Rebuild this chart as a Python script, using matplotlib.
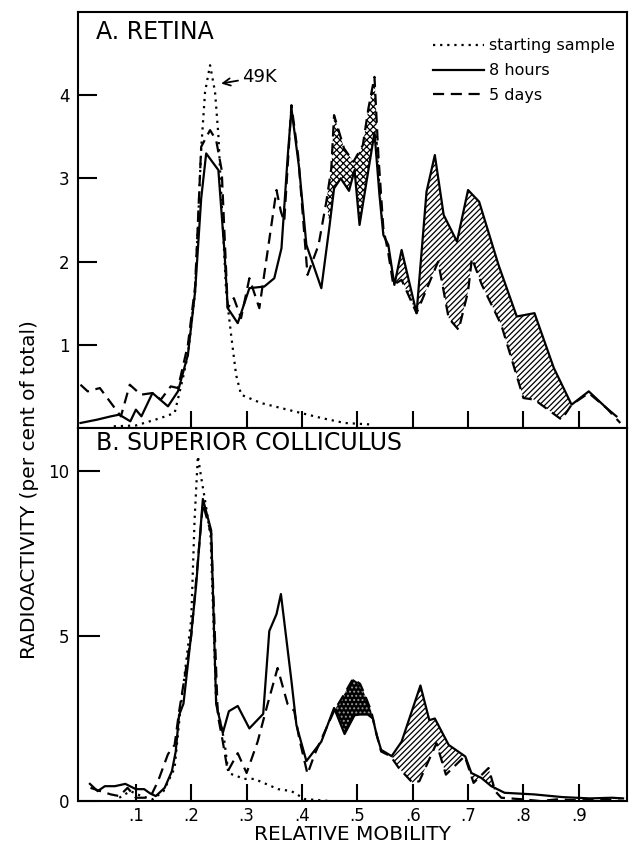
import numpy as np
import matplotlib
matplotlib.use("Agg")
import matplotlib.pyplot as plt

# --- A. Retina : lectures sur la figure (mobilite relative, % du total)
a_solid_x = [0.0, 0.03, 0.055, 0.07, 0.09, 0.10, 0.11, 0.13, 0.158, 0.176, 0.194, 0.207, 0.218,
             0.227, 0.249, 0.26, 0.266, 0.284, 0.305, 0.332, 0.35, 0.363, 0.374, 0.381, 0.395,
             0.408, 0.435, 0.45, 0.458, 0.47, 0.485, 0.495, 0.504, 0.52, 0.531, 0.54, 0.547,
             0.556, 0.567, 0.58, 0.607, 0.625, 0.64, 0.656, 0.68, 0.70, 0.72, 0.755, 0.788,
             0.82, 0.855, 0.887, 0.918, 0.95, 0.968]
a_solid_y = [0.06, 0.10, 0.14, 0.16, 0.08, 0.22, 0.14, 0.42, 0.26, 0.44, 0.88, 1.64, 2.76,
             3.30, 3.10, 2.12, 1.44, 1.26, 1.68, 1.70, 1.80, 2.16, 3.24, 3.84, 3.12,
             2.20, 1.68, 2.44, 2.88, 3.00, 2.85, 3.10, 2.44, 3.10, 3.55, 2.80, 2.32,
             2.20, 1.72, 2.14, 1.38, 2.84, 3.28, 2.56, 2.24, 2.86, 2.72, 1.96, 1.34,
             1.38, 0.72, 0.28, 0.44, 0.24, 0.14]
a_dash_x = [0.0, 0.013, 0.035, 0.073, 0.089, 0.109, 0.13, 0.145, 0.163, 0.176, 0.194, 0.207,
            0.218, 0.234, 0.245, 0.255, 0.266, 0.277, 0.29, 0.305, 0.323, 0.354, 0.362, 0.368,
            0.381, 0.393, 0.41, 0.43, 0.444, 0.453, 0.458, 0.476, 0.493, 0.51, 0.52, 0.531,
            0.538, 0.547, 0.556, 0.565, 0.58, 0.607, 0.646, 0.665, 0.683, 0.70, 0.707, 0.725,
            0.76, 0.80, 0.82, 0.869, 0.887, 0.918, 0.95, 0.975]
a_dash_y = [0.52, 0.44, 0.48, 0.14, 0.52, 0.40, 0.42, 0.34, 0.50, 0.48, 1.00, 1.70,
            3.38, 3.58, 3.46, 3.10, 1.44, 1.56, 1.32, 1.80, 1.44, 2.86, 2.60, 2.48,
            3.88, 3.28, 1.84, 2.20, 2.72, 3.12, 3.76, 3.36, 3.20, 3.40, 3.84, 4.22,
            3.28, 2.40, 2.10, 1.72, 1.78, 1.38, 2.00, 1.32, 1.18, 1.64, 2.04, 1.72,
            1.24, 0.36, 0.34, 0.10, 0.28, 0.42, 0.24, 0.06]
a_dot_x = [0.06, 0.10, 0.145, 0.17, 0.185, 0.194, 0.207, 0.218, 0.225, 0.234, 0.243, 0.249,
           0.254, 0.263, 0.272, 0.281, 0.29, 0.326, 0.386, 0.435, 0.477, 0.53]
a_dot_y = [0.02, 0.03, 0.12, 0.18, 0.60, 0.88, 1.64, 3.36, 4.04, 4.36, 4.04, 3.52,
           2.84, 1.64, 1.12, 0.64, 0.40, 0.30, 0.20, 0.12, 0.06, 0.04]

# --- B. Superior colliculus
b_solid_x = [0.017, 0.031, 0.044, 0.062, 0.081, 0.10, 0.115, 0.125, 0.136, 0.152, 0.165, 0.172,
             0.178, 0.186, 0.2, 0.209, 0.221, 0.236, 0.245, 0.257, 0.268, 0.284, 0.305, 0.33,
             0.341, 0.354, 0.362, 0.381, 0.39, 0.408, 0.435, 0.458, 0.477, 0.495, 0.505, 0.519,
             0.528, 0.535, 0.543, 0.562, 0.58, 0.614, 0.63, 0.64, 0.665, 0.695, 0.706, 0.724,
             0.742, 0.766, 0.82, 0.87, 0.92, 0.96, 0.98]
b_solid_y = [0.52, 0.30, 0.45, 0.45, 0.52, 0.36, 0.36, 0.24, 0.15, 0.40, 0.90, 1.50,
             2.60, 2.95, 5.06, 6.56, 9.15, 8.20, 2.94, 2.06, 2.72, 2.88, 2.20, 2.64,
             5.15, 5.66, 6.27, 3.64, 2.30, 1.21, 1.80, 2.82, 2.03, 2.60, 2.62, 2.62,
             2.50, 2.00, 1.55, 1.36, 1.80, 3.50, 2.45, 2.50, 1.70, 1.35, 0.85, 0.70,
             0.45, 0.25, 0.20, 0.12, 0.08, 0.10, 0.08]
b_dash_x = [0.018, 0.036, 0.055, 0.07, 0.085, 0.10, 0.12, 0.127, 0.14, 0.158, 0.17, 0.178,
            0.2, 0.221, 0.236, 0.248, 0.257, 0.266, 0.284, 0.30, 0.32, 0.338, 0.356, 0.374,
            0.386, 0.395, 0.41, 0.423, 0.458, 0.475, 0.492, 0.505, 0.513, 0.525, 0.535, 0.543,
            0.56, 0.575, 0.60, 0.612, 0.643, 0.66, 0.694, 0.71, 0.728, 0.737, 0.749, 0.76,
            0.80, 0.83, 0.86, 0.90, 0.95, 0.98]
b_dash_y = [0.40, 0.30, 0.20, 0.15, 0.40, 0.10, 0.10, 0.15, 0.60, 1.42, 1.70, 2.70,
            5.00, 9.00, 8.10, 2.60, 1.80, 0.90, 1.45, 0.85, 1.80, 2.94, 4.03, 2.94,
            2.73, 1.90, 0.82, 1.42, 2.73, 3.20, 3.70, 3.55, 3.24, 2.73, 2.00, 1.50,
            1.36, 1.00, 0.55, 0.60, 1.75, 0.80, 1.36, 0.55, 0.85, 1.00, 0.30, 0.10,
            0.05, 0.00, 0.05, 0.02, 0.05, 0.00]
b_dot_x = [0.07, 0.09, 0.11, 0.13, 0.15, 0.17, 0.18, 0.20, 0.206, 0.212, 0.218, 0.226,
           0.235, 0.245, 0.26, 0.267, 0.296, 0.314, 0.357, 0.381, 0.405, 0.45]
b_dot_y = [0.10, 0.30, 0.15, 0.05, 0.30, 1.00, 2.70, 5.50, 8.50, 10.45, 9.80, 9.00,
           8.00, 3.00, 1.80, 0.85, 0.67, 0.67, 0.36, 0.30, 0.06, 0.00]

# zones hachurees (bornes en mobilite relative)
a_cross = (0.444, 0.547)
a_diag = (0.547, 0.887)
b_cross = (0.458, 0.528)
b_diag = (0.562, 0.749)

x_ticks = [0.1, 0.2, 0.3, 0.4, 0.5, 0.6, 0.7, 0.8, 0.9]
x_labels = [".1", ".2", ".3", ".4", ".5", ".6", ".7", ".8", ".9"]
legend_labels = ["starting sample", "8 hours", "5 days"]

plt.rcParams["font.family"] = "DejaVu Sans"
plt.rcParams["hatch.linewidth"] = 0.9

DOT = (0, (1, 2.2))
DASH = (0, (5, 3))


def zone(ax, xs, ys, xd, yd, lims, **kw):
    xs, ys, xd, yd = map(np.asarray, (xs, ys, xd, yd))
    ms = (xs >= lims[0]) & (xs <= lims[1])
    md = (xd >= lims[0]) & (xd <= lims[1])
    px = np.r_[xs[ms], xd[md][::-1]]
    py = np.r_[ys[ms], yd[md][::-1]]
    ax.fill(px, py, **kw)


def style(ax):
    for s in ax.spines.values():
        s.set_linewidth(1.5)
    ax.tick_params(direction="in", width=1.5, labelsize=12, pad=6)


fig = plt.figure(figsize=(6.32, 8.5), dpi=100)
axA = fig.add_axes([0.123, 0.4965, 0.869, 0.4894])
axB = fig.add_axes([0.123, 0.0576, 0.869, 0.4389])

# A
lA_dot, = axA.plot(a_dot_x, a_dot_y, color="k", lw=1.6, ls=DOT)
lA_sol, = axA.plot(a_solid_x, a_solid_y, color="k", lw=1.6)
lA_dash, = axA.plot(a_dash_x, a_dash_y, color="k", lw=1.6, ls=DASH)
zone(axA, a_solid_x, a_solid_y, a_dash_x, a_dash_y, a_cross,
     facecolor="none", edgecolor="k", hatch="xxxxx", lw=0)
zone(axA, a_solid_x, a_solid_y, a_dash_x, a_dash_y, a_diag,
     facecolor="none", edgecolor="k", hatch="//////", lw=0)
axA.set_xlim(-0.005, 0.987)
axA.set_ylim(0, 5.0)
axA.set_yticks([1, 2, 3, 4])
axA.set_xticks(x_ticks[1:])
axA.tick_params(axis="x", labelbottom=False, length=12)
axA.tick_params(axis="y", length=14)
style(axA)
axA.text(0.033, 0.952, "A. RETINA", transform=axA.transAxes, fontsize=17,
         ha="left", va="center")
axA.annotate("49K", xy=(0.254, 4.14), xytext=(0.292, 4.22), fontsize=13,
             va="center", ha="left",
             arrowprops=dict(arrowstyle="->", lw=1.3, color="k", shrinkA=1, shrinkB=0))
axA.legend([lA_dot, lA_sol, lA_dash], legend_labels, loc="upper right",
           bbox_to_anchor=(0.995, 0.96), frameon=False, fontsize=11.5,
           handlelength=3.2, handletextpad=0.3, labelspacing=0.62, borderaxespad=0.2)

# B
axB.plot(b_dot_x, b_dot_y, color="k", lw=1.6, ls=DOT)
axB.plot(b_solid_x, b_solid_y, color="k", lw=1.6)
axB.plot(b_dash_x, b_dash_y, color="k", lw=1.6, ls=DASH)
zone(axB, b_solid_x, b_solid_y, b_dash_x, b_dash_y, b_cross,
     facecolor="k", edgecolor="0.6", hatch="....", lw=0)
zone(axB, b_solid_x, b_solid_y, b_dash_x, b_dash_y, b_diag,
     facecolor="none", edgecolor="k", hatch="//////", lw=0)
axB.set_xlim(-0.005, 0.987)
axB.set_ylim(0, 11.3)
axB.set_yticks([0, 5, 10])
axB.set_xticks(x_ticks)
axB.set_xticklabels(x_labels)
axB.tick_params(axis="x", length=12, pad=4)
axB.tick_params(axis="y", length=16)
style(axB)
axB.tick_params(axis="x", pad=4)
axB.text(0.033, 0.96, "B. SUPERIOR COLLICULUS", transform=axB.transAxes, fontsize=17,
         ha="left", va="center")
axB.set_xlabel("RELATIVE MOBILITY", fontsize=14.5, labelpad=0)

fig.text(0.047, 0.4235, "RADIOACTIVITY (per cent of total)", rotation=90,
         ha="center", va="center", fontsize=14.5)

fig.savefig("out.png", dpi=100)
plt.close(fig)
